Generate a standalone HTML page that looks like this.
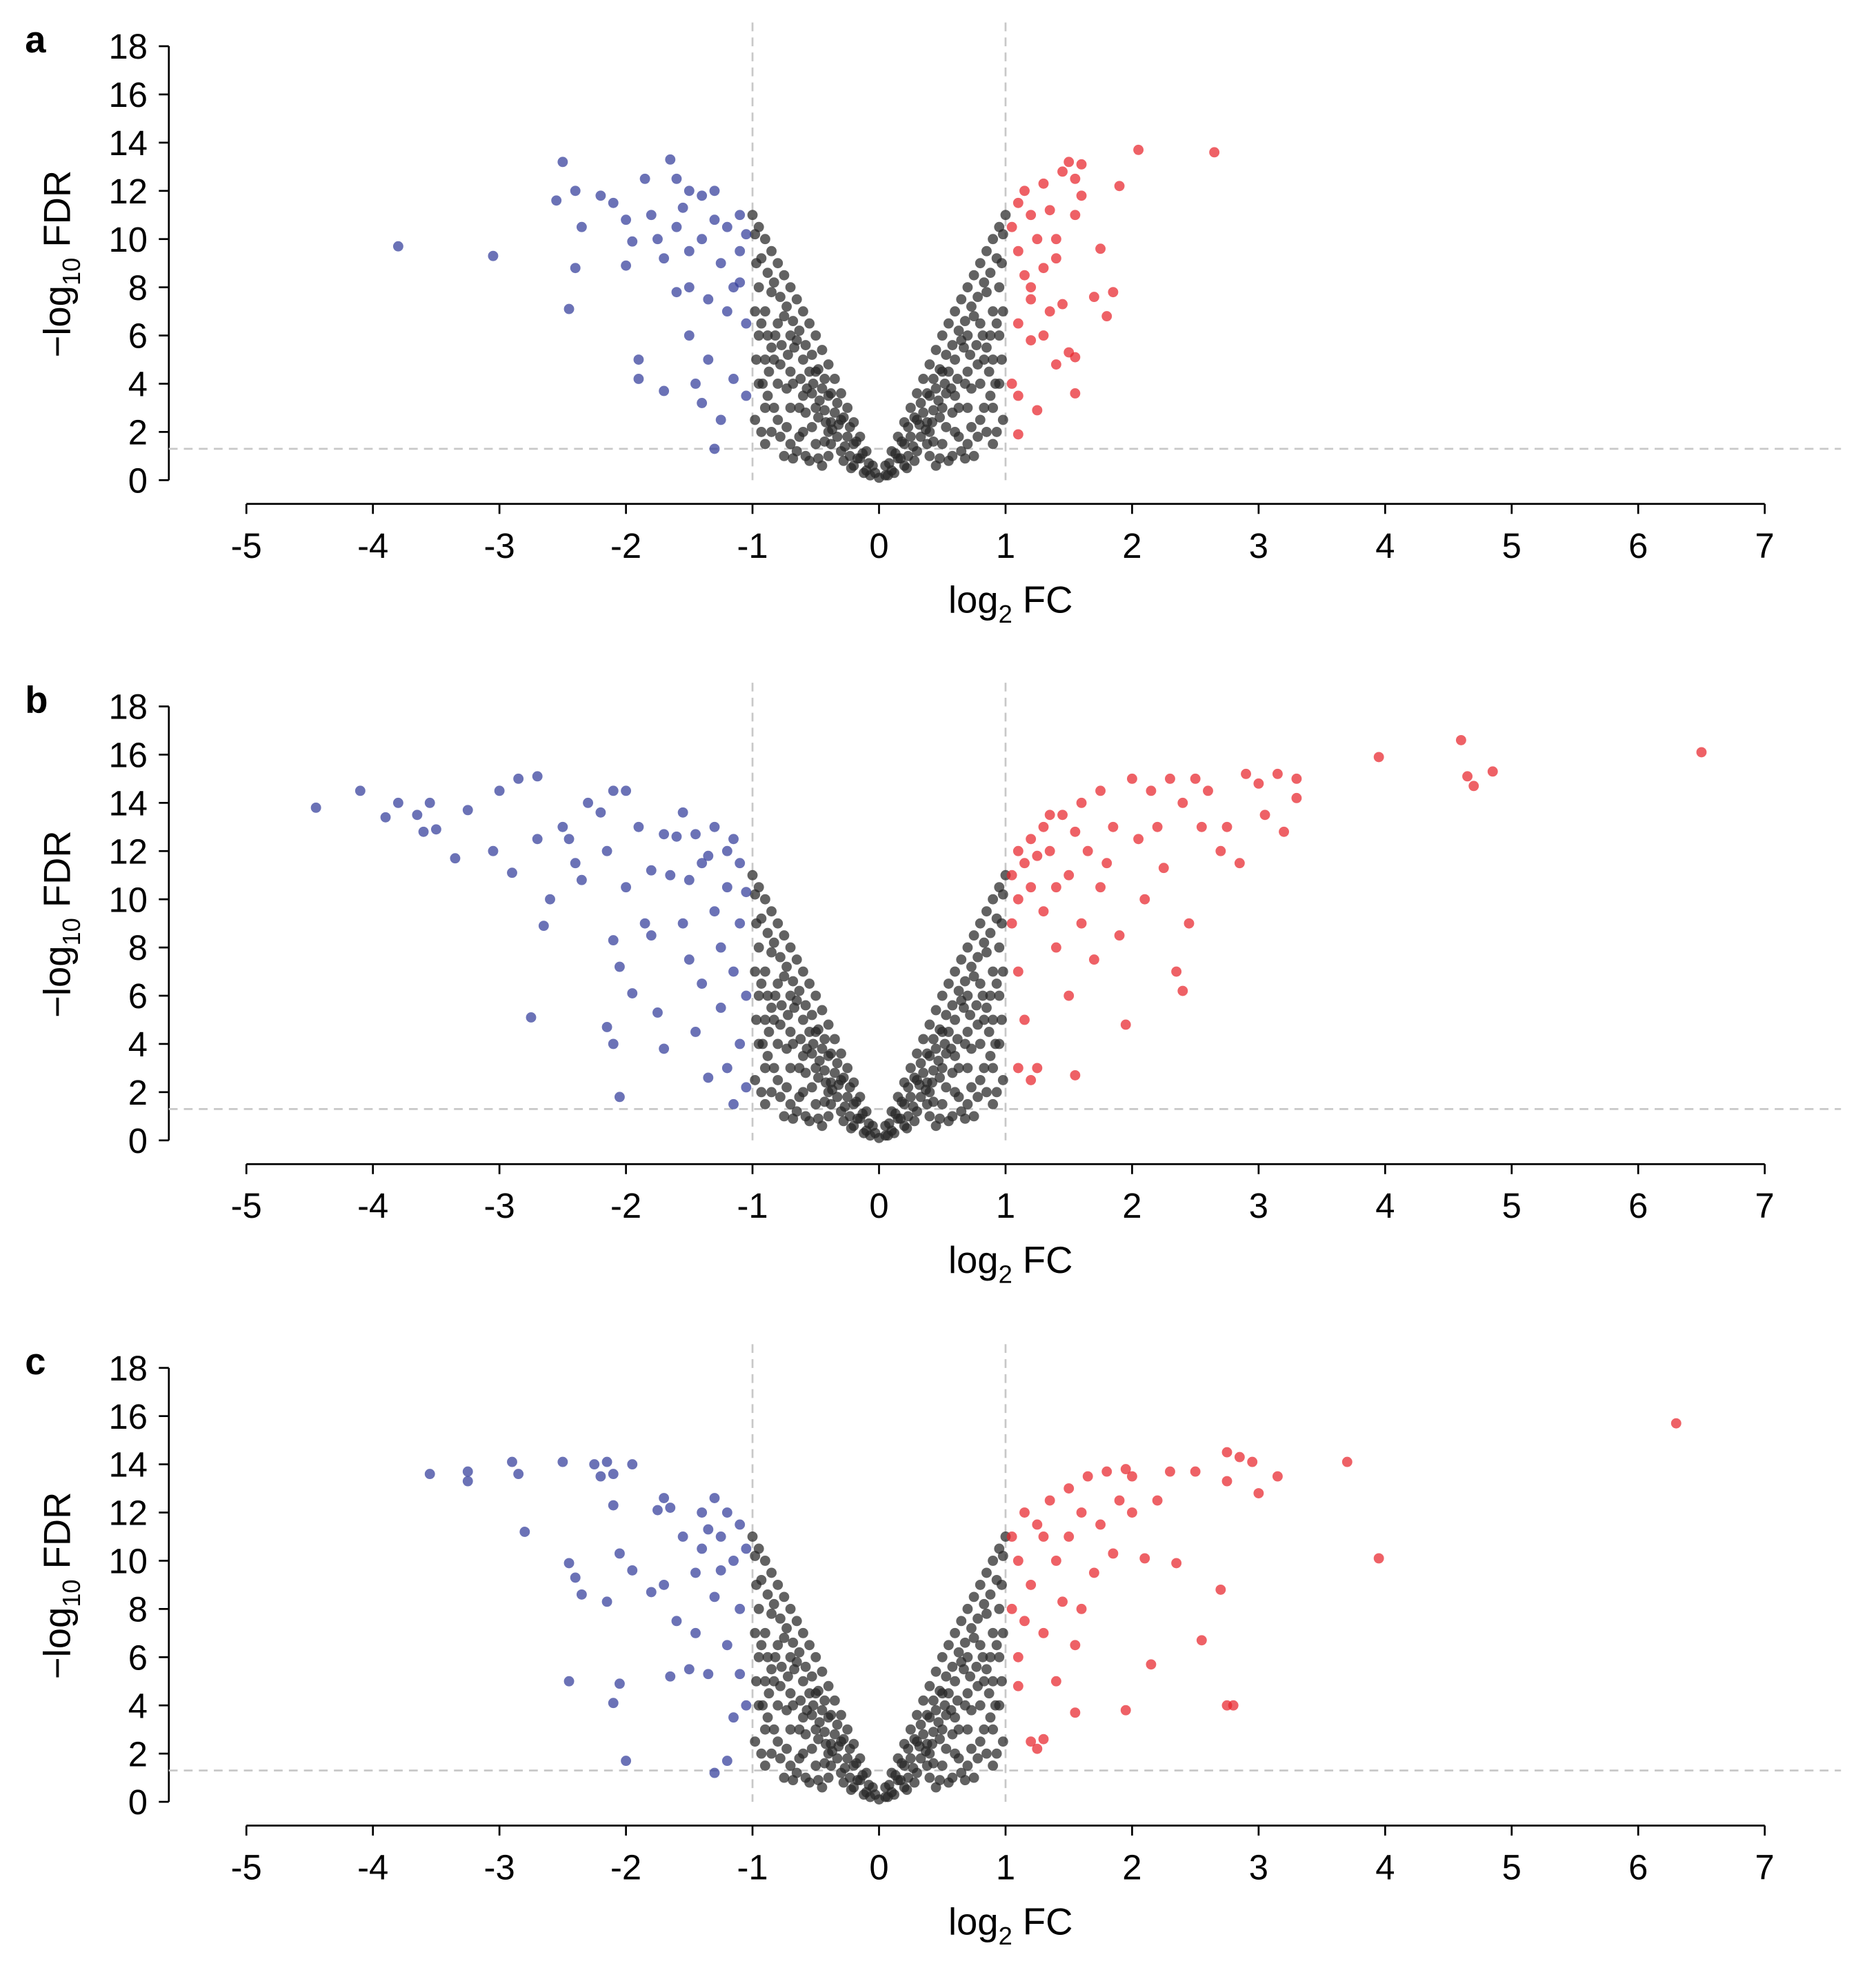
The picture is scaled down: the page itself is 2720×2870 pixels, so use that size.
<!DOCTYPE html>
<html><head><meta charset="utf-8"><style>html,body{margin:0;padding:0;background:#fff}svg{display:block}</style></head>
<body>
<svg id="fig" width="2720" height="2870" viewBox="0 0 1500 1582.7" preserveAspectRatio="none" xmlns="http://www.w3.org/2000/svg" font-family="Liberation Sans, Arial, sans-serif"></svg>
<script>
const xTicks=[-5,-4,-3,-2,-1,0,1,2,3,4,5,6,7];
const yTicks=[0,2,4,6,8,10,12,14,16,18];
const panelLetters=['a','b','c'];
const blackPts=[[-1,11],[-0.95,10.5],[-0.9,10],[-0.85,9.5],[-0.8,9],[-0.75,8.5],[-0.7,8],[-0.65,7.5],[-0.6,7],[-0.55,6.5],[-0.5,6],[-0.45,5.4],[-0.4,4.8],[-0.35,4.2],[-0.3,3.6],[-0.25,3],[-0.2,2.4],[-0.15,1.8],[-0.1,1.2],[-0.05,0.6],[0,0.1],
[1,11],[0.95,10.5],[0.9,10],[0.85,9.5],[0.8,9],[0.75,8.5],[0.7,8],[0.65,7.5],[0.6,7],[0.55,6.5],[0.5,6],[0.45,5.4],[0.4,4.8],[0.35,4.2],[0.3,3.6],[0.25,3],[0.2,2.4],[0.15,1.8],[0.1,1.2],[0.05,0.6],
[-0.9,7],[-0.9,5],[-0.9,3],[-0.9,1.5],[-0.8,6.5],[-0.8,4],[-0.8,2.5],[-0.7,6],[-0.7,4.5],[-0.7,3],[-0.7,1.5],[-0.6,5],[-0.6,3.5],[-0.6,2],[-0.5,4.5],[-0.5,3],[-0.5,1.5],[-0.4,3.5],[-0.4,2],[-0.4,1],[-0.3,2.5],[-0.3,1.2],[-0.2,1.5],[-0.2,0.6],[-0.1,0.4],
[0.9,7],[0.9,5],[0.9,3],[0.9,1.5],[0.8,6.5],[0.8,4],[0.8,2.5],[0.7,6],[0.7,4.5],[0.7,3],[0.7,1.5],[0.6,5],[0.6,3.5],[0.6,2],[0.5,4.5],[0.5,3],[0.5,1.5],[0.4,3.5],[0.4,2],[0.4,1],[0.3,2.5],[0.3,1.2],[0.2,1.5],[0.2,0.6],[0.1,0.4],
[0.05,0.2],[-0.03,0.3],[-0.95,8],[-0.85,7.8],[-0.75,6.8],[-0.65,5.8],[-0.55,4.5],[-0.45,3.8],[-0.35,2.8],[-0.25,1.8],[-0.15,0.9],[0.95,8],[0.85,7.8],[0.75,6.8],[0.65,5.8],[0.55,4.5],[0.45,3.8],[0.35,2.8],[0.25,1.8],[0.15,0.9],
[-0.95,4],[-0.85,2],[-0.75,1],[-0.65,1.2],[-0.55,0.8],[-0.45,0.6],[0.95,4],[0.85,2],[0.75,1],[0.65,1.2],[0.55,0.8],[0.45,0.6],[-0.95,6],[-0.85,5.5],[0.95,6],[0.85,5.5],[-0.97,9],[0.97,9],
[-0.98,10.2],[-0.93,9.2],[-0.88,8.6],[-0.83,8.2],[-0.78,7.6],[-0.73,7.2],[-0.68,6.6],[-0.63,6.2],[-0.58,5.6],[-0.53,5.2],[-0.48,4.6],[-0.43,4.2],[-0.38,3.6],[-0.33,3.2],[-0.28,2.6],[-0.23,2.2],[-0.18,1.6],[-0.13,1.1],[-0.08,0.7],[-0.98,7],[-0.93,6.5],[-0.88,6],[-0.83,5],[-0.78,4.8],[-0.73,3.8],[-0.68,4],[-0.63,3],[-0.58,2.8],[-0.53,2.2],[-0.48,2.6],[-0.43,1.6],[-0.38,1.5],[-0.33,1.8],[-0.28,0.8],[-0.23,1],[-0.98,2.5],[-0.93,2],[-0.88,3.5],[-0.83,3],[-0.78,1.8],[-0.73,2.2],[-0.68,0.9],[-0.63,1.8],[-0.58,1],[-0.53,3.6],[-0.48,0.9],[-0.43,2.9],[-0.38,2.4],[-0.97,5],[-0.92,4],[-0.87,4.5],[-0.82,6],[-0.77,5.6],[-0.72,5.2],[-0.67,5.5],[-0.62,4.2],[-0.57,3.8],[-0.52,4],[-0.47,3.3],[-0.42,2.4],[-0.37,2.1],[-0.32,2.3],[-0.27,1.4],[-0.22,0.5],[-0.17,0.9],[-0.12,0.3],[-0.07,0.2],
[0.98,10.2],[0.93,9.2],[0.88,8.6],[0.83,8.2],[0.78,7.6],[0.73,7.2],[0.68,6.6],[0.63,6.2],[0.58,5.6],[0.53,5.2],[0.48,4.6],[0.43,4.2],[0.38,3.6],[0.33,3.2],[0.28,2.6],[0.23,2.2],[0.18,1.6],[0.13,1.1],[0.08,0.7],[0.98,7],[0.93,6.5],[0.88,6],[0.83,5],[0.78,4.8],[0.73,3.8],[0.68,4],[0.63,3],[0.58,2.8],[0.53,2.2],[0.48,2.6],[0.43,1.6],[0.38,1.5],[0.33,1.8],[0.28,0.8],[0.23,1],[0.98,2.5],[0.93,2],[0.88,3.5],[0.83,3],[0.78,1.8],[0.73,2.2],[0.68,0.9],[0.63,1.8],[0.58,1],[0.53,3.6],[0.48,0.9],[0.43,2.9],[0.38,2.4],[0.97,5],[0.92,4],[0.87,4.5],[0.82,6],[0.77,5.6],[0.72,5.2],[0.67,5.5],[0.62,4.2],[0.57,3.8],[0.52,4],[0.47,3.3],[0.42,2.4],[0.37,2.1],[0.32,2.3],[0.27,1.4],[0.22,0.5],[0.17,0.9],[0.12,0.3],[0.07,0.2]];
const blueA=[[-3.8,9.7],[-3.05,9.3],[-2.5,13.2],[-2.55,11.6],[-2.4,12],[-2.35,10.5],[-2.4,8.8],[-2.45,7.1],[-2.2,11.8],[-2.1,11.5],[-2.0,10.8],[-1.95,9.9],[-2.0,8.9],[-1.9,5],[-1.9,4.2],[-1.85,12.5],[-1.8,11],[-1.75,10],[-1.7,3.7],[-1.65,13.3],[-1.6,12.5],[-1.6,10.5],[-1.55,11.3],[-1.5,9.5],[-1.5,8],[-1.5,6],[-1.45,4],[-1.4,11.8],[-1.4,10],[-1.35,7.5],[-1.35,5],[-1.3,1.3],[-1.3,12],[-1.25,9],[-1.2,10.5],[-1.2,7],[-1.15,8],[-1.15,4.2],[-1.1,11],[-1.1,9.5],[-1.05,6.5],[-1.05,3.5],[-1.25,2.5],[-1.4,3.2],[-1.6,7.8],[-1.7,9.2],[-1.3,10.8],[-1.1,8.2],[-1.05,10.2],[-1.5,12]];
const redA=[[1.05,10.5],[1.1,11.5],[1.15,12],[1.2,11],[1.25,10],[1.3,12.3],[1.35,11.2],[1.4,10],[1.45,12.8],[1.5,13.2],[1.55,12.5],[1.6,13.1],[1.6,11.8],[1.55,11],[1.1,9.5],[1.15,8.5],[1.2,7.5],[1.3,8.8],[1.35,7],[1.45,7.3],[1.5,5.3],[1.55,5.1],[1.55,3.6],[1.4,4.8],[1.3,6],[1.2,5.8],[1.1,6.5],[1.05,4],[1.1,3.5],[1.25,2.9],[1.1,1.9],[1.75,9.6],[1.7,7.6],[1.8,6.8],[1.85,7.8],[1.9,12.2],[2.05,13.7],[2.65,13.6],[1.2,8],[1.4,9.2]];
const blueB=[[-4.45,13.8],[-4.1,14.5],[-3.9,13.4],[-3.8,14],[-3.65,13.5],[-3.6,12.8],[-3.55,14],[-3.5,12.9],[-3.35,11.7],[-3.25,13.7],[-3,14.5],[-3.05,12],[-2.9,11.1],[-2.85,15],[-2.7,15.1],[-2.7,12.5],[-2.65,8.9],[-2.6,10],[-2.75,5.1],[-2.5,13],[-2.45,12.5],[-2.4,11.5],[-2.35,10.8],[-2.3,14],[-2.2,13.6],[-2.15,12],[-2.1,14.5],[-2.1,8.3],[-2.05,7.2],[-2,14.5],[-2,10.5],[-1.95,6.1],[-2.15,4.7],[-2.1,4],[-2.05,1.8],[-1.9,13],[-1.85,9],[-1.8,8.5],[-1.75,5.3],[-1.7,12.7],[-1.65,11],[-1.6,12.6],[-1.55,13.6],[-1.55,9],[-1.5,10.8],[-1.5,7.5],[-1.45,12.7],[-1.45,4.5],[-1.4,11.5],[-1.4,6.5],[-1.35,2.6],[-1.3,13],[-1.3,9.5],[-1.25,8],[-1.25,5.5],[-1.2,12],[-1.2,10.5],[-1.2,3],[-1.15,1.5],[-1.15,7],[-1.1,11.5],[-1.1,9],[-1.1,4],[-1.05,10.3],[-1.05,6],[-1.05,2.2],[-1.7,3.8],[-1.8,11.2],[-1.35,11.8],[-1.15,12.5]];
const redB=[[1.05,11],[1.05,9],[1.1,12],[1.1,7],[1.15,11.5],[1.15,5],[1.2,12.5],[1.2,10.5],[1.25,11.8],[1.25,3],[1.3,9.5],[1.3,13],[1.35,12],[1.4,8],[1.4,10.5],[1.45,13.5],[1.5,11],[1.5,6],[1.55,2.7],[1.6,14],[1.6,9],[1.65,12],[1.7,7.5],[1.75,14.5],[1.8,11.5],[1.85,13],[1.9,8.5],[1.95,4.8],[2,15],[2.05,12.5],[2.1,10],[2.15,14.5],[2.2,13],[2.25,11.3],[2.3,15],[2.35,7],[2.4,14],[2.45,9],[2.4,6.2],[2.5,15],[2.55,13],[2.6,14.5],[2.7,12],[2.75,13],[2.85,11.5],[2.9,15.2],[3,14.8],[3.05,13.5],[3.15,15.2],[3.2,12.8],[3.3,15],[3.3,14.2],[3.95,15.9],[4.6,16.6],[4.65,15.1],[4.7,14.7],[4.85,15.3],[6.5,16.1],[1.1,10],[1.35,13.5],[1.55,12.8],[1.75,10.5],[1.1,3],[1.2,2.5]];
const blueC=[[-3.55,13.6],[-3.25,13.7],[-3.25,13.3],[-2.9,14.1],[-2.85,13.6],[-2.8,11.2],[-2.5,14.1],[-2.45,9.9],[-2.4,9.3],[-2.35,8.6],[-2.45,5],[-2.25,14],[-2.2,13.5],[-2.15,14.1],[-2.1,13.6],[-2.1,12.3],[-2.15,8.3],[-2.05,10.3],[-2.05,4.9],[-2.1,4.1],[-1.95,14],[-1.95,9.6],[-2,1.7],[-1.8,8.7],[-1.75,12.1],[-1.7,12.6],[-1.7,9],[-1.65,12.2],[-1.65,5.2],[-1.6,7.5],[-1.55,11],[-1.5,5.5],[-1.45,7],[-1.45,9.5],[-1.4,12],[-1.4,10.5],[-1.35,5.3],[-1.3,12.6],[-1.3,1.2],[-1.3,8.5],[-1.25,11],[-1.2,12],[-1.2,6.5],[-1.2,1.7],[-1.15,10],[-1.15,3.5],[-1.1,11.5],[-1.1,8],[-1.1,5.3],[-1.05,10.5],[-1.05,4],[-1.25,9.6],[-1.35,11.3]];
const redC=[[1.05,11],[1.05,8],[1.1,10],[1.1,6],[1.1,4.8],[1.15,12],[1.2,9],[1.2,2.5],[1.25,11.5],[1.25,2.2],[1.3,7],[1.3,2.6],[1.35,12.5],[1.4,10],[1.4,5],[1.45,8.3],[1.5,13],[1.5,11],[1.55,6.5],[1.55,3.7],[1.6,12],[1.65,13.5],[1.7,9.5],[1.75,11.5],[1.8,13.7],[1.85,10.3],[1.9,12.5],[1.95,13.8],[2,13.5],[2,12],[1.95,3.8],[2.1,10.1],[2.15,5.7],[2.2,12.5],[2.3,13.7],[2.35,9.9],[2.5,13.7],[2.55,6.7],[2.7,8.8],[2.75,14.5],[2.75,4],[2.8,4],[2.75,13.3],[2.85,14.3],[2.95,14.1],[3,12.8],[3.15,13.5],[3.7,14.1],[3.95,10.1],[6.3,15.7],[1.15,7.5],[1.3,11],[1.6,8]];
const blues=[blueA,blueB,blueC];
const reds=[redA,redB,redC];
const offsets=[0,528,1057];
const NS='http://www.w3.org/2000/svg';
const svg=document.getElementById('fig');
function mk(t,a,p){const e=document.createElementNS(NS,t);for(const k in a)e.setAttribute(k,a[k]);(p||svg).appendChild(e);return e;}
function sx(v){return 197+(v+5)*101.17;}
for(let p=0;p<3;p++){
  const off=offsets[p];
  const sy=v=>384+off-v*19.28;
  const g=mk('g',{});
  
  
  const L=mk('text',{x:20,y:off+42,'font-size':30,'font-weight':'bold'},g);L.textContent=panelLetters[p];
  
  
  const ya=mk('line',{x1:135,x2:135,y1:sy(18),y2:sy(0),stroke:'#000','stroke-width':1.5},g);
  
  
  yTicks.forEach(t=>{mk('line',{x1:127,x2:135,y1:sy(t),y2:sy(t),stroke:'#000','stroke-width':1.5},g);
    const tx=mk('text',{x:118,y:sy(t)+10,'font-size':28,'text-anchor':'end'},g);tx.textContent=t;
    
    });
  const xa=mk('line',{x1:sx(-5),x2:sx(7),y1:403+off,y2:403+off,stroke:'#000','stroke-width':1.5},g);
  
  
  xTicks.forEach(t=>{mk('line',{x1:sx(t),x2:sx(t),y1:403+off,y2:411+off,stroke:'#000','stroke-width':1.5},g);
    const tx=mk('text',{x:sx(t),y:446+off,'font-size':28,'text-anchor':'middle'},g);tx.textContent=t;
    
    });
  const xt=mk('text',{x:808,y:490+off,'font-size':30,'text-anchor':'middle'},g);
  xt.innerHTML='log<tspan font-size="20" dy="8">2</tspan><tspan dy="-8"> FC</tspan>';
  
  
  const yt=mk('text',{x:0,y:0,'font-size':30,'text-anchor':'middle',transform:`translate(56,${211+off}) rotate(-90)`},g);
  yt.innerHTML='−log<tspan font-size="20" dy="8">10</tspan><tspan dy="-8"> FDR</tspan>';
  
  
  [-1,1].forEach(v=>{const l=mk('line',{x1:sx(v),x2:sx(v),y1:off+18,y2:sy(0),stroke:'#c8c8c8','stroke-width':1.5,'stroke-dasharray':'7,5'},g);
    
    });
  const h=mk('line',{x1:135,x2:1472,y1:sy(1.3),y2:sy(1.3),stroke:'#c8c8c8','stroke-width':1.5,'stroke-dasharray':'7,5'},g);
  
  
  const draw=(arr,col,op,name)=>arr.forEach(d=>{const c=mk('circle',{cx:sx(d[0]),cy:sy(d[1]),r:4.1,fill:col,'fill-opacity':op},g);
    
    });
  draw(blackPts,'#262626',0.72,'point-ns');
  draw(blues[p],'#323c9a',0.72,'point-down');
  draw(reds[p],'#e8242b',0.72,'point-up');
}
</script>
</body></html>
